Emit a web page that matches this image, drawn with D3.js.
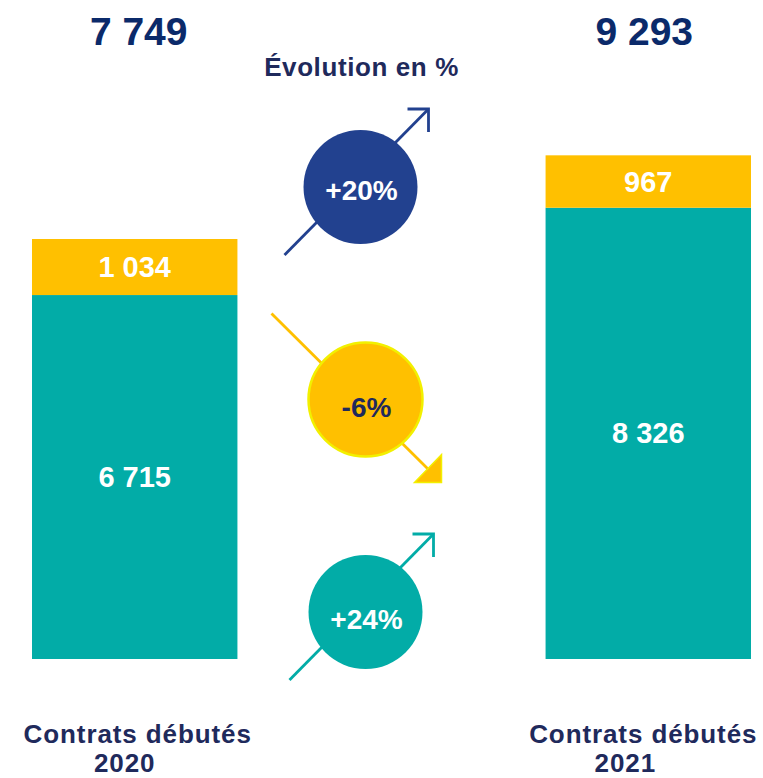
<!DOCTYPE html>
<html>
<head>
<meta charset="utf-8">
<script src="https://cdn.jsdelivr.net/npm/d3@7"></script>
<style>
  html, body { margin: 0; padding: 0; background: #fff; }
  svg { display: block; font-family: "Liberation Sans", Arial, sans-serif; font-weight: bold; }
</style>
</head>
<body>
<div id="chart"></div>
<script>
// data
const years = ['2020', '2021'];
const tealValues = [6715, 8326];
const yellowValues = [1034, 967];
const totals = [7749, 9293];
const evolutions = ['+20%', '-6%', '+24%'];
const evolutionRows = ['total', 'yellow', 'teal'];
const axisLabel = 'Contrats débutés';

const width = 763, height = 778;
const tealColor = '#02aca7',
    yellowColor = '#ffc000',
    blueColor = '#22418f',
    navy = '#0b2a6a',
    ink = '#1f2a5c';

const fmt = v => d3.format(',')(v).replace(/,/g, ' ');

const svg = d3.select('#chart').append('svg')
    .attr('width', width)
    .attr('height', height);

const x = d3.scaleBand()
    .domain(years)
    .range([32, 751])
    .paddingInner(0.6)
    .paddingOuter(0);

const y = d3.scaleLinear()
    .domain([0, 10000])
    .range([659, 117]);

const stacked = years.map((yr, i) => ({
    year: yr,
    teal: tealValues[i],
    yellow: yellowValues[i],
    total: totals[i]
}));

const stack = d3.stack().keys(['teal', 'yellow'])(stacked);
const colors = d3.scaleOrdinal().domain(['teal', 'yellow']).range([tealColor, yellowColor]);

const layers = svg.selectAll('g.layer')
    .data(stack)
    .enter()
    .append('g')
    .attr('class', 'layer')
    .attr('fill', d => colors(d.key));

layers.selectAll('rect')
    .data(d => d)
    .enter()
    .append('rect')
    .attr('x', d => x(d.data.year))
    .attr('width', x.bandwidth())
    .attr('y', d => y(d[1]))
    .attr('height', d => y(d[0]) - y(d[1]));

// values inside the segments
layers.selectAll('text')
    .data(d => d)
    .enter()
    .append('text')
    .attr('x', d => x(d.data.year) + x.bandwidth() / 2)
    .attr('y', d => (y(d[0]) + y(d[1])) / 2 + 10)
    .attr('text-anchor', 'middle')
    .attr('fill', '#fff')
    .style('font-size', '29px')
    .text(d => fmt(d[1] - d[0]));

// totals on top
svg.selectAll('.total')
    .data(stacked)
    .enter()
    .append('text')
    .attr('class', 'total')
    .attr('x', d => x(d.year) + x.bandwidth() / 2 + (d.year === '2020' ? 4 : -4))
    .attr('y', 45)
    .attr('text-anchor', 'middle')
    .attr('fill', navy)
    .style('font-size', '39px')
    .text(d => fmt(d.total));

// bottom labels
const cats = svg.selectAll('.cat')
    .data(years)
    .enter()
    .append('text')
    .attr('class', 'cat')
    .attr('text-anchor', 'middle')
    .attr('fill', ink)
    .style('font-size', '26px')
    .style('letter-spacing', '0.9px');
cats.append('tspan')
    .attr('x', d => x(d) + x.bandwidth() / 2 + (d === '2020' ? 3 : -5))
    .attr('y', 743)
    .text(axisLabel);
cats.append('tspan')
    .attr('x', d => x(d) + x.bandwidth() / 2 + (d === '2020' ? -10 : -23))
    .attr('y', 772)
    .text(d => d);

// evolution title
const midX = (x(years[0]) + x.bandwidth() + x(years[1])) / 2 - 28;
svg.append('text')
    .attr('x', midX - 2)
    .attr('y', 76)
    .attr('text-anchor', 'middle')
    .attr('fill', ink)
    .style('font-size', '26px')
    .style('letter-spacing', '0.6px')
    .text('Évolution en %');

// evolution circles
const rowY = d3.scalePoint()
    .domain(evolutionRows)
    .range([187, 612]);

const evoFill = { total: blueColor, yellow: yellowColor, teal: tealColor };
const evoText = { total: '#fff', yellow: ink, teal: '#fff' };

evolutionRows.forEach((row, i) => {
    const cx = midX + (row === 'total' ? -3 : 2),
        cy = rowY(row),
        g = svg.append('g');
    const up = evolutions[i].charAt(0) === '+';
    g.attr('stroke', evoFill[row]).attr('stroke-width', 2.8).attr('fill', 'none');
    if (up) {
        const x1 = cx - 76, y1 = cy + 68, x2 = cx + 68, y2 = cy - 78;
        g.append('line').attr('x1', x1).attr('y1', y1).attr('x2', x2).attr('y2', y2);
        g.append('polyline')
            .attr('points', `${x2 - 21},${y2} ${x2},${y2} ${x2},${y2 + 23}`);
    } else {
        const x1 = cx - 94, y1 = cy - 86, x2 = cx + 76, y2 = cy + 83;
        g.append('line').attr('x1', x1).attr('y1', y1).attr('x2', x2 - 12).attr('y2', y2 - 12);
        g.append('polygon')
            .attr('points', `${x2},${y2} ${x2 - 27},${y2} ${x2},${y2 - 28}`)
            .attr('fill', evoFill[row])
            .attr('stroke', '#f2f000')
            .attr('stroke-width', 1.5);
    }
    g.append('circle')
        .attr('cx', cx)
        .attr('cy', cy)
        .attr('r', 57)
        .attr('fill', evoFill[row])
        .attr('stroke', row === 'yellow' ? '#f2f000' : 'none')
        .attr('stroke-width', 2.5);
    svg.append('text')
        .attr('x', cx + 1)
        .attr('y', cy + 13 + (row === 'total' ? 0 : 4))
        .attr('text-anchor', 'middle')
        .attr('fill', evoText[row])
        .style('font-size', '28px')
        .text(evolutions[i]);
});
</script>
</body>
</html>
